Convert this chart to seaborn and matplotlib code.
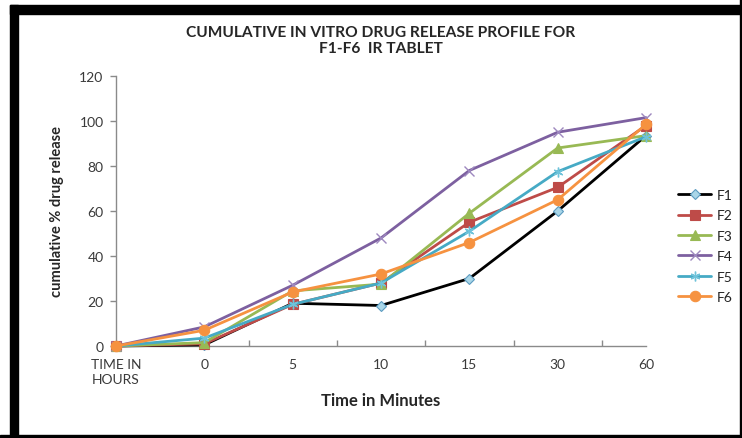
import matplotlib
matplotlib.use("Agg")
import matplotlib.pyplot as plt
from matplotlib.patches import Rectangle
import seaborn as sns
import numpy as np

categories = ["TIME IN\nHOURS", "0", "5", "10", "15", "30", "60"]
series_names = ["F1", "F2", "F3", "F4", "F5", "F6"]
F1 = [0, 0.5, 19, 18, 30, 60, 93.5]
F2 = [0, 1, 18.5, 28, 55, 70.5, 98]
F3 = [0, 1.5, 24.5, 27.5, 59, 88, 93.5]
F4 = [0, 8.5, 27, 48, 78, 95, 101.5]
F5 = [0, 3.5, 18.5, 28, 51, 77.5, 93]
F6 = [0, 7, 24, 32, 46, 65, 98.5]
yticks = [0, 20, 40, 60, 80, 100, 120]

sns.set_theme(style="white")
plt.rcParams["font.family"] = ["Lato", "DejaVu Sans"]

fig = plt.figure(figsize=(7.42, 4.39), dpi=100)
ax = fig.add_axes([116/742, 92/439, 530/742, 270/439])

styles = {
    "F1": dict(color="black", marker="D", ms=5.5, mfc="#a9d6e8", mec="#5b9bc0", mew=0.8),
    "F2": dict(color="#be4b48", marker="s", ms=6.5, mfc="#be4b48", mec="#be4b48", mew=0.8),
    "F3": dict(color="#98b954", marker="^", ms=7, mfc="#98b954", mec="#98b954", mew=0.8),
    "F4": dict(color="#7d60a0", marker="x", ms=7, mfc="#9d88bf", mec="#9d88bf", mew=1.0),
    "F5": dict(color="#46aac5", marker=(6, 2, 0), ms=7, mfc="#6fc3da", mec="#6fc3da", mew=1.0),
    "F6": dict(color="#f69240", marker="o", ms=7.5, mfc="#f69240", mec="#f69240", mew=0.8),
}
data = {"F1": F1, "F2": F2, "F3": F3, "F4": F4, "F5": F5, "F6": F6}

for name in series_names:
    st = styles[name]
    sns.lineplot(x=categories, y=data[name], ax=ax, sort=False, color=st["color"],
                 linewidth=2.0, marker=st["marker"], markersize=st["ms"],
                 markerfacecolor=st["mfc"], markeredgecolor=st["mec"],
                 markeredgewidth=st["mew"], label=name, zorder=3, clip_on=False)

ax.set_xlim(0, 6)
ax.set_ylim(0, 120)
ax.set_yticks(yticks)
ax.set_yticklabels([str(v) for v in yticks])
ax.set_xticks(range(len(categories)))
ax.set_xticklabels(categories, linespacing=1.3, ha="center", multialignment="center")
ax.set_xticks([1.5, 2.5, 3.5, 4.5, 5.5, 6], minor=True)

for s in ["top", "right"]:
    ax.spines[s].set_visible(False)
for s in ["left", "bottom"]:
    ax.spines[s].set_color("#8a8a8a")
    ax.spines[s].set_linewidth(1.0)

ax.tick_params(axis="x", which="major", length=0, pad=9, labelsize=10, labelcolor="#3a3a3a")
ax.tick_params(axis="x", which="minor", length=4, direction="in", color="#8a8a8a", width=1, bottom=True)
ax.tick_params(axis="y", which="major", length=4, direction="out", color="#8a8a8a", width=1,
               pad=5, labelsize=10, labelcolor="#3a3a3a", left=True)
ax.grid(False)

ax.set_xlabel("Time in Minutes", fontsize=12, fontweight="bold", labelpad=5)
ax.set_ylabel("cumulative % drug release", fontsize=10.5, fontweight="bold", labelpad=11)

fig.text(381/742, 0.906, "CUMULATIVE IN VITRO DRUG RELEASE PROFILE FOR\nF1-F6  IR TABLET",
         ha="center", va="center", fontsize=11.2, fontweight="bold", linespacing=1.15)

leg = ax.legend(loc="center left", bbox_to_anchor=(678/742, 1 - 247/439),
                bbox_transform=fig.transFigure, frameon=False, fontsize=10,
                handlelength=2.4, handletextpad=0.4, labelspacing=0.6, borderpad=0,
                borderaxespad=0)
for t in leg.get_texts():
    t.set_color("#222222")

# black frame
fig.patches.append(Rectangle((10/742, 0), 8/742, 1 - 6/439, transform=fig.transFigure,
                             color="black", zorder=10))
fig.patches.append(Rectangle((10/742, 1 - 15/439), 1, 9/439, transform=fig.transFigure,
                             color="black", zorder=10))
fig.patches.append(Rectangle((740/742, 0), 2/742, 1, transform=fig.transFigure,
                             color="black", zorder=10))
fig.patches.append(Rectangle((0, 0), 1, 3/439, transform=fig.transFigure,
                             color="black", zorder=10))

fig.savefig("out.png", dpi=100)
